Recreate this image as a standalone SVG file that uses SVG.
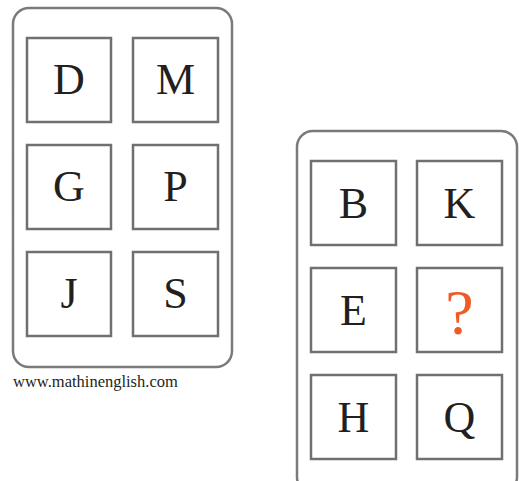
<svg xmlns="http://www.w3.org/2000/svg" width="519" height="481" viewBox="0 0 519 481">
<style>
.panel{fill:#fff;stroke:#7a7a7a;stroke-width:2.5}
.box{fill:#fff;stroke:#707070;stroke-width:2.5}
.t{font-family:"Liberation Serif","Times New Roman",serif;font-size:44px;fill:#231f20;text-anchor:middle}
.q{fill:#f15a24;font-size:64px}
.w{font-family:"Liberation Serif","Times New Roman",serif;font-size:16.5px;fill:#231f20}
</style>
<rect width="519" height="481" fill="#fff"/>
<g id="left-panel">
<rect class="panel" x="13" y="8" width="219" height="359" rx="16"/>
<g id="D"><rect class="box" x="27" y="38" width="84" height="84"/><text class="t" x="69" y="94">D</text></g>
<g id="M"><rect class="box" x="133" y="38" width="85" height="84"/><text class="t" x="175.500" y="94">M</text></g>
<g id="G"><rect class="box" x="27" y="145" width="84" height="84"/><text class="t" x="69" y="201">G</text></g>
<g id="P"><rect class="box" x="133" y="145" width="85" height="84"/><text class="t" x="175.500" y="201">P</text></g>
<g id="J"><rect class="box" x="27" y="252" width="84" height="84"/><text class="t" x="69" y="308">J</text></g>
<g id="S"><rect class="box" x="133" y="252" width="85" height="84"/><text class="t" x="175.500" y="308">S</text></g>
</g>
<text class="w" x="13" y="387">www.mathinenglish.com</text>
<g id="right-panel">
<rect class="panel" x="297" y="131" width="220" height="362" rx="16"/>
<g id="B"><rect class="box" x="311" y="161" width="85" height="84"/><text class="t" x="353.500" y="218">B</text></g>
<g id="K"><rect class="box" x="417" y="161" width="85" height="84"/><text class="t" x="459.500" y="218">K</text></g>
<g id="E"><rect class="box" x="311" y="268" width="85" height="84"/><text class="t" x="353.500" y="325">E</text></g>
<g id="Qmark"><rect class="box" x="417" y="268" width="85" height="84"/><text class="t q" x="459.500" y="334">?</text></g>
<g id="H"><rect class="box" x="311" y="375" width="85" height="84"/><text class="t" x="353.500" y="432">H</text></g>
<g id="Q"><rect class="box" x="417" y="375" width="85" height="84"/><text class="t" x="459.500" y="432">Q</text></g>
</g>
</svg>
